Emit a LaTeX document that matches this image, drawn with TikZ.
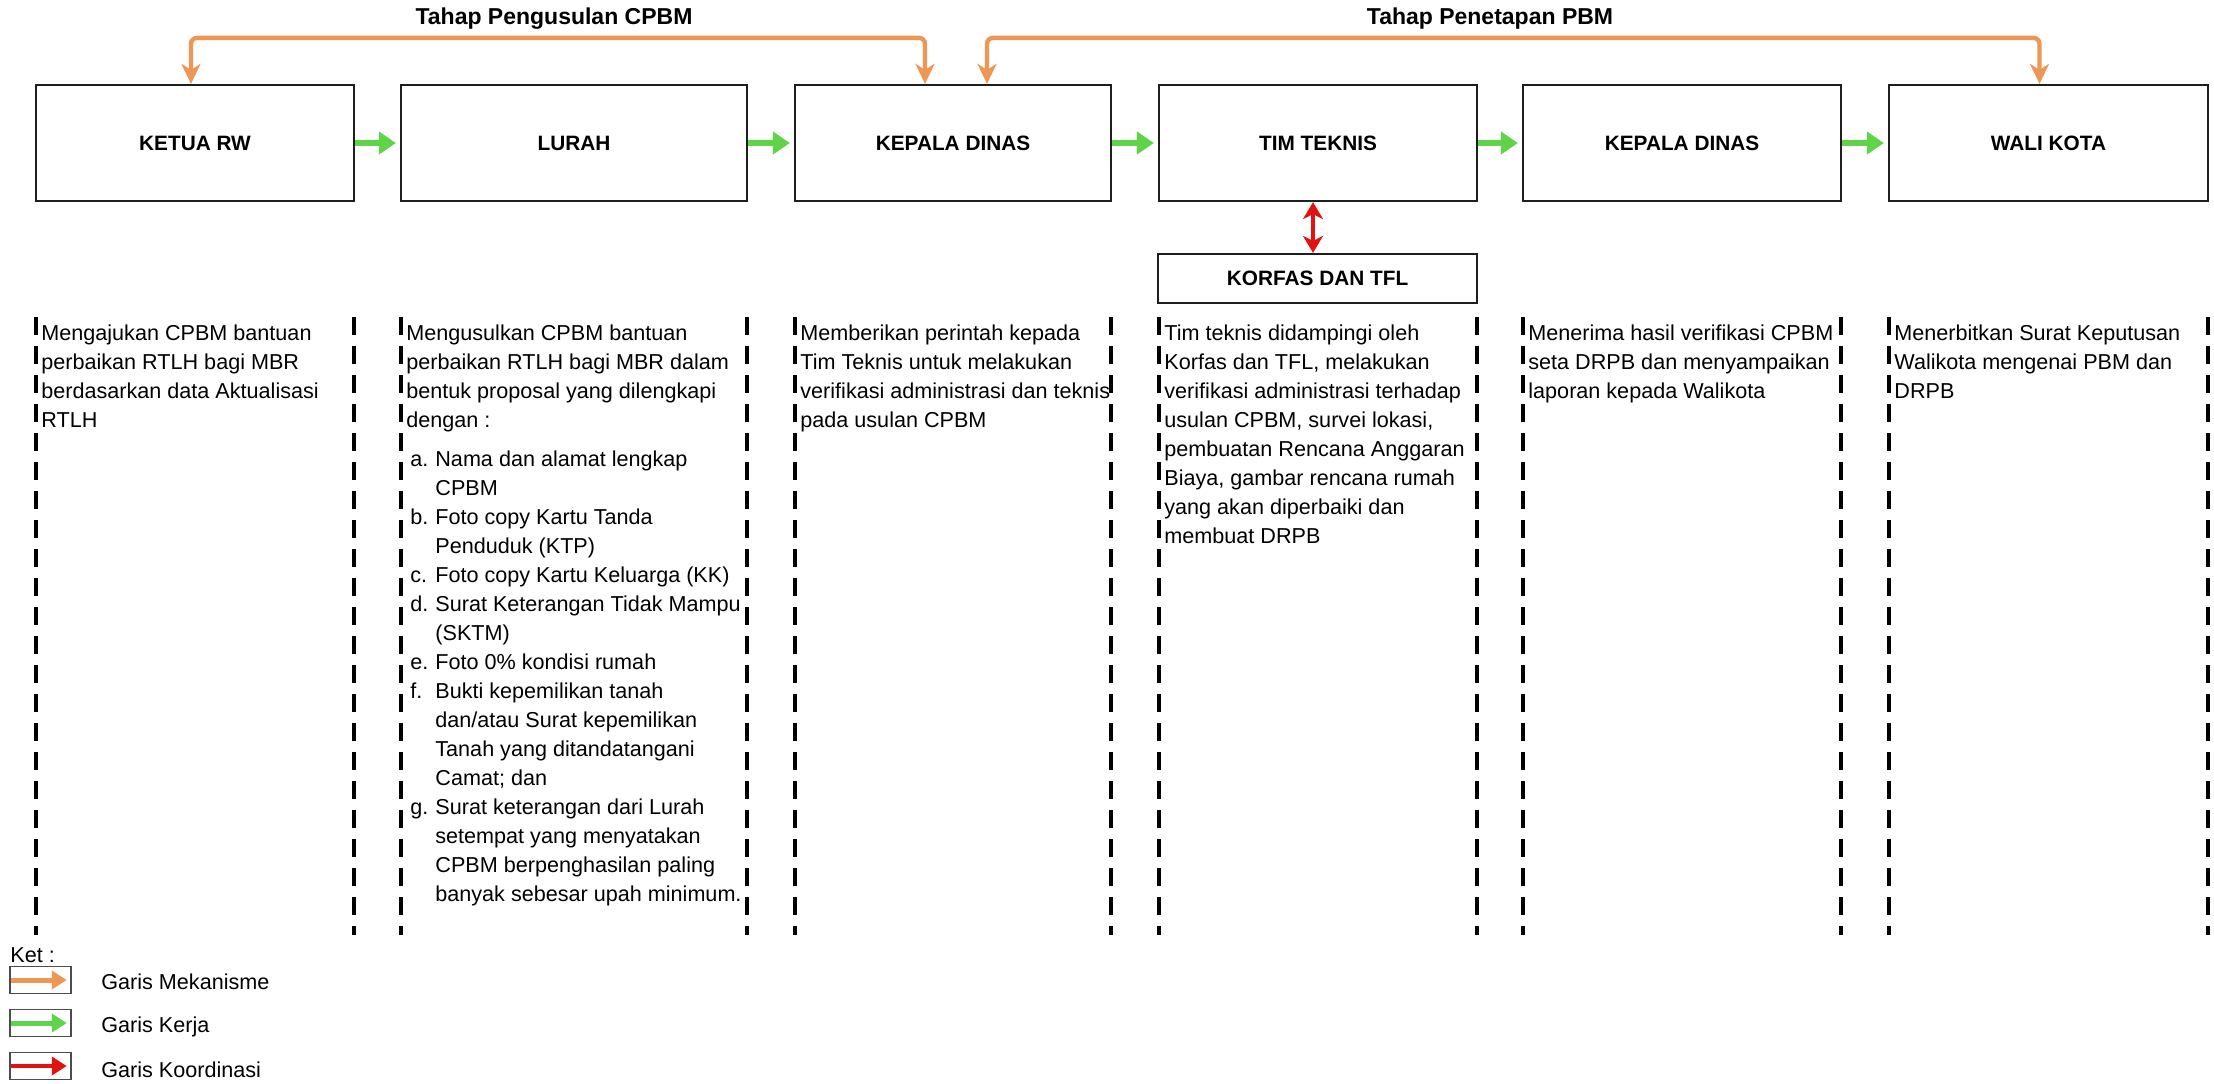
\documentclass[tikz,border=0pt]{standalone}
\usepackage{fontspec}
\setmainfont{Liberation Sans}
\usetikzlibrary{arrows.meta}
\definecolor{orangeC}{RGB}{238,150,84}
\definecolor{greenC}{RGB}{96,212,72}
\definecolor{redC}{RGB}{226,18,18}
\definecolor{boxline}{RGB}{30,30,30}
\newcommand\lbl[1]{\hspace*{2pt}\makebox[12.5pt][l]{#1}}
\newcommand\cont{\hspace*{14.5pt}}
\newcommand\descfont{\fontsize{10.8}{14.5}\selectfont\raggedright}
\begin{document}
\begin{tikzpicture}[x=0.5pt,y=-0.5pt,
  actor/.style={draw=boxline,line width=1.1pt,inner sep=0pt,minimum height=58pt,font=\fontsize{10.4}{12}\selectfont\bfseries},
  heading/.style={inner sep=0pt,font=\fontsize{11.5}{13}\selectfont\bfseries},
  desc/.style={inner sep=0pt,anchor=base west},
  dashline/.style={line width=1.6pt,dash pattern=on 9pt off 5.5pt},
  workarr/.style={draw=greenC,line width=3pt,-{Triangle[length=8.5pt,width=11pt]}},
  mecharr/.style={draw=orangeC,line width=2.2pt,rounded corners=3pt,{Stealth[length=10pt,width=9.5pt,inset=3pt]}-{Stealth[length=10pt,width=9.5pt,inset=3pt]}},
  koorarr/.style={draw=redC,line width=2pt,{Stealth[length=8.5pt,width=10pt,inset=2.5pt]}-{Stealth[length=8.5pt,width=10pt,inset=2.5pt]}},
  legbox/.style={draw=gray!60!black,line width=0.8pt,minimum width=30.5pt,minimum height=13.5pt,inner sep=0pt},
  legtext/.style={inner sep=0pt,anchor=west,font=\fontsize{10.8}{13}\selectfont},
]
\useasboundingbox (0,0) rectangle (2214,1083);

% headings
\node[heading] (h1) at (554,19) {Tahap Pengusulan CPBM};
\node[heading] (h2) at (1490,19) {Tahap Penetapan PBM};

% actor boxes
\node[actor,minimum width=159pt] (b1) at (195,143) {KETUA RW};
\node[actor,minimum width=173pt] (b2) at (574,143) {LURAH};
\node[actor,minimum width=158pt] (b3) at (953,143) {KEPALA DINAS};
\node[actor,minimum width=159pt] (b4) at (1318,143) {TIM TEKNIS};
\node[actor,minimum width=159pt] (b5) at (1682,143) {KEPALA DINAS};
\node[actor,minimum width=159.5pt] (b6) at (2048.5,143) {WALI KOTA};
\node[actor,minimum width=159.5pt,minimum height=24.5pt] (kf) at (1317.5,278.5) {KORFAS DAN TFL};

% work arrows
\draw[workarr] (b1.east) -- ([xshift=-2pt]b2.west);
\draw[workarr] (b2.east) -- ([xshift=-2pt]b3.west);
\draw[workarr] (b3.east) -- ([xshift=-2pt]b4.west);
\draw[workarr] (b4.east) -- ([xshift=-2pt]b5.west);
\draw[workarr] (b5.east) -- ([xshift=-2pt]b6.west);

% mechanism brackets
\draw[mecharr] ([xshift=-2pt]b1.north) -- ++(0,-46) -| ([xshift=-14pt]b3.north);
\draw[mecharr] ([xshift=17pt]b3.north) -- ++(0,-46) -| ([xshift=-4.5pt]b6.north);

% coordination arrow
\draw[koorarr] ([xshift=-2.5pt]b4.south) -- ([xshift=-2.25pt]kf.north);

% dashed column borders
\foreach \x in {36,354,401,747,795,1111,1159,1477,1523,1841,1889,2208}
  \draw[dashline] (\x,317) -- (\x,935);

% descriptions
\node[desc] (d1) at (41,340) {\parbox[t]{165pt}{\descfont
Mengajukan CPBM bantuan\\
perbaikan RTLH bagi MBR\\
berdasarkan data Aktualisasi\\
RTLH}};

\node[desc] (d2) at (406,340) {\parbox[t]{175pt}{\descfont
Mengusulkan CPBM bantuan\\
perbaikan RTLH bagi MBR dalam\\
bentuk proposal yang dilengkapi\\
dengan :\\[5pt]
\lbl{a.}Nama dan alamat lengkap\\
\cont CPBM\\
\lbl{b.}Foto copy Kartu Tanda\\
\cont Penduduk (KTP)\\
\lbl{c.}Foto copy Kartu Keluarga (KK)\\
\lbl{d.}Surat Keterangan Tidak Mampu\\
\cont (SKTM)\\
\lbl{e.}Foto 0\% kondisi rumah\\
\lbl{f.}Bukti kepemilikan tanah\\
\cont dan/atau Surat kepemilikan\\
\cont Tanah yang ditandatangani\\
\cont Camat; dan\\
\lbl{g.}Surat keterangan dari Lurah\\
\cont setempat yang menyatakan\\
\cont CPBM berpenghasilan paling\\
\cont banyak sebesar upah minimum.}};

\node[desc] (d3) at (800,340) {\parbox[t]{165pt}{\descfont
Memberikan perintah kepada\\
Tim Teknis untuk melakukan\\
verifikasi administrasi dan teknis\\
pada usulan CPBM}};

\node[desc] (d4) at (1164,340) {\parbox[t]{165pt}{\descfont
Tim teknis didampingi oleh\\
Korfas dan TFL, melakukan\\
verifikasi administrasi terhadap\\
usulan CPBM, survei lokasi,\\
pembuatan Rencana Anggaran\\
Biaya, gambar rencana rumah\\
yang akan diperbaiki dan\\
membuat DRPB}};

\node[desc] (d5) at (1528,340) {\parbox[t]{165pt}{\descfont
Menerima hasil verifikasi CPBM\\
seta DRPB dan menyampaikan\\
laporan kepada Walikota}};

\node[desc] (d6) at (1894,340) {\parbox[t]{165pt}{\descfont
Menerbitkan Surat Keputusan\\
Walikota mengenai PBM dan\\
DRPB}};

% legend
\node[legtext] (ket) at (10,955) {Ket :};
\node[legbox] (l1) at (40.5,980) {};
\node[legbox] (l2) at (40.5,1023) {};
\node[legbox] (l3) at (40.5,1066) {};
\draw[draw=orangeC,line width=2.5pt,-{Triangle[length=7.5pt,width=9pt]}] ([xshift=1pt]l1.west) -- ([xshift=-2.5pt]l1.east);
\draw[draw=greenC,line width=2.5pt,-{Triangle[length=7.5pt,width=9pt]}] ([xshift=1pt]l2.west) -- ([xshift=-2.5pt]l2.east);
\draw[draw=redC,line width=2pt,-{Triangle[length=7.5pt,width=9pt]}] ([xshift=1pt]l3.west) -- ([xshift=-2.5pt]l3.east);
\node[legtext] (g1) at (101,982) {Garis Mekanisme};
\node[legtext] (g2) at (101,1027) {Garis Kerja};
\node[legtext] (g3) at (101,1070) {Garis Koordinasi};
\end{tikzpicture}
\end{document}
